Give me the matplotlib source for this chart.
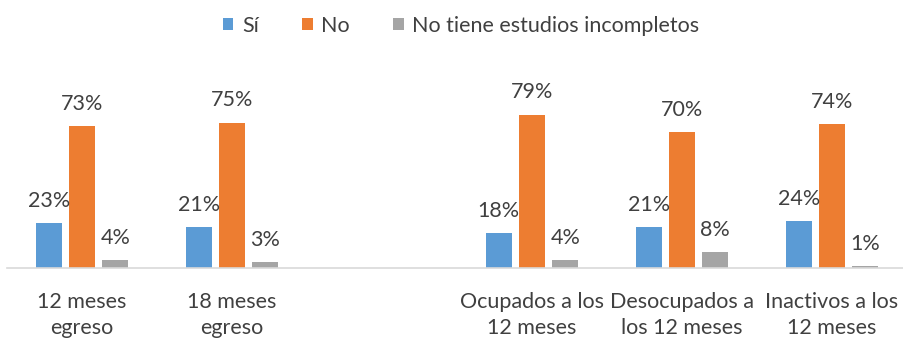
import numpy as np
import matplotlib.pyplot as plt

plt.rcParams['font.family'] = ['Lato', 'DejaVu Sans']

# Categories and values (%)
categorias = ['12 meses\negreso', '18 meses\negreso', '',
              'Ocupados a los\n12 meses', 'Desocupados a\nlos 12 meses',
              'Inactivos a los\n12 meses']
si = [23, 21, None, 18, 21, 24]
no = [73, 75, None, 79, 70, 74]
no_tiene = [4, 3, None, 4, 8, 1]

series = [('Sí', si, '#5B9BD5'),
          ('No', no, '#ED7D31'),
          ('No tiene estudios incompletos', no_tiene, '#A5A5A5')]

fig = plt.figure(figsize=(9.04, 3.39), dpi=100)
ax = fig.add_axes([7 / 904, 1 - 268 / 339, 900 / 904, 194 / 339])

x = np.arange(len(categorias))
ancho = 0.175
paso = 0.222
texto = '#404040'

for i, (nombre, valores, color) in enumerate(series):
    pos = [xi + (i - 1) * paso for xi, v in zip(x, valores) if v is not None]
    vals = [v for v in valores if v is not None]
    barras = ax.bar(pos, vals, width=ancho, color=color, label=nombre)
    for b, v in zip(barras, vals):
        ax.annotate(f'{v}%', (b.get_x() + b.get_width() / 2, v),
                    xytext=(0, 9), textcoords='offset points',
                    ha='center', va='bottom', fontsize=15.5, color=texto)

ax.set_xlim(-0.5, len(categorias) - 0.5)
ax.set_ylim(0, 100)
ax.set_xticks(x)
ax.set_xticklabels(categorias, fontsize=15.5, color=texto, linespacing=1.4)
ax.tick_params(axis='x', length=0, pad=17)
ax.set_yticks([])
for lado in ['top', 'right', 'left']:
    ax.spines[lado].set_visible(False)
ax.spines['bottom'].set_color('#D9D9D9')
ax.spines['bottom'].set_linewidth(1.2)

fig.legend(loc='upper center', bbox_to_anchor=(0.51, 1.01), ncol=3,
           frameon=False, fontsize=15.5, handlelength=0.5, handleheight=0.5,
           handletextpad=0.4, columnspacing=2.0, labelcolor=texto)

fig.savefig('out.png', dpi=100)
